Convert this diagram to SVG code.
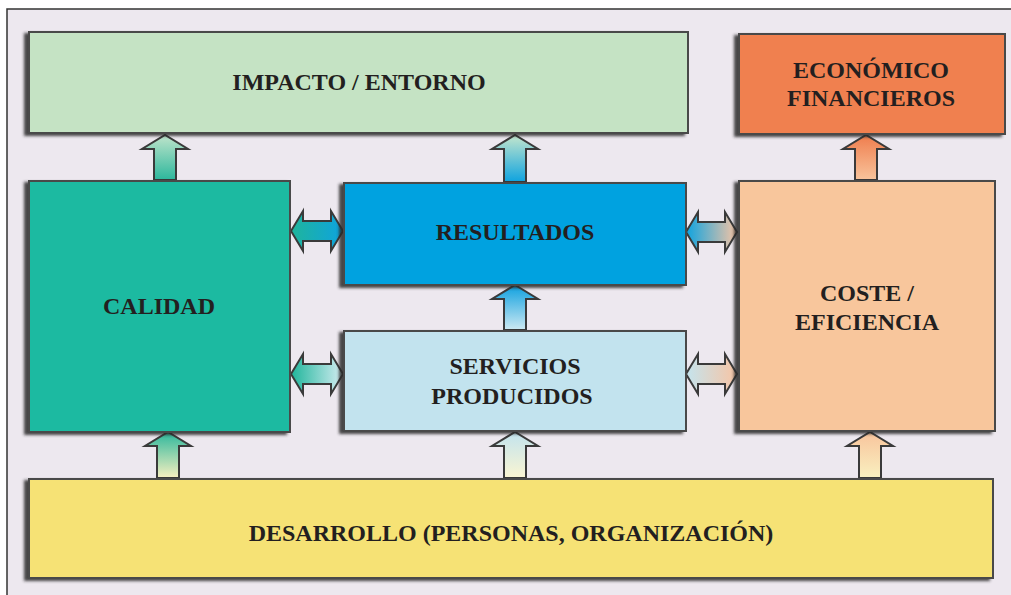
<svg xmlns="http://www.w3.org/2000/svg" width="1011" height="595" viewBox="0 0 1011 595">
<defs>
<style>
.box{stroke:#4a4a4a;stroke-width:2;filter:url(#sh)}
.t{font-family:"Liberation Serif","Times New Roman",serif;font-weight:bold;font-size:24px;fill:#231f20;text-anchor:middle}
.ar{stroke:#3a3a3a;stroke-width:2;stroke-linejoin:miter}
</style>
<filter id="sh" x="-5%" y="-5%" width="110%" height="115%">
<feDropShadow dx="-4" dy="2" stdDeviation="1.5" flood-color="#2a2a2a" flood-opacity="0.85"/>
</filter>
<linearGradient id="gA" x1="0" y1="1" x2="0" y2="0"><stop offset="0" stop-color="#2cb79c"/><stop offset="1" stop-color="#bfe4cb"/></linearGradient>
<linearGradient id="gB" x1="0" y1="1" x2="0" y2="0"><stop offset="0" stop-color="#0ea3df"/><stop offset="1" stop-color="#c4e6cd"/></linearGradient>
<linearGradient id="gC" x1="0" y1="1" x2="0" y2="0"><stop offset="0" stop-color="#f8c49c"/><stop offset="1" stop-color="#ef7d4d"/></linearGradient>
<linearGradient id="gD" x1="0" y1="1" x2="0" y2="0"><stop offset="0" stop-color="#cde9f2"/><stop offset="1" stop-color="#0ea0df"/></linearGradient>
<linearGradient id="gE" x1="0" y1="1" x2="0" y2="0"><stop offset="0" stop-color="#f7f0c0"/><stop offset="1" stop-color="#2cb79c"/></linearGradient>
<linearGradient id="gF" x1="0" y1="1" x2="0" y2="0"><stop offset="0" stop-color="#faf5d2"/><stop offset="1" stop-color="#c2e3ee"/></linearGradient>
<linearGradient id="gG" x1="0" y1="1" x2="0" y2="0"><stop offset="0" stop-color="#f9f0c0"/><stop offset="1" stop-color="#f8c49c"/></linearGradient>
<linearGradient id="hA" x1="0" y1="0" x2="1" y2="0"><stop offset="0" stop-color="#1fb59b"/><stop offset="1" stop-color="#0ea3df"/></linearGradient>
<linearGradient id="hB" x1="0" y1="0" x2="1" y2="0"><stop offset="0" stop-color="#1fb59b"/><stop offset="1" stop-color="#d4edf2"/></linearGradient>
<linearGradient id="hC" x1="0" y1="0" x2="1" y2="0"><stop offset="0" stop-color="#0ea3df"/><stop offset="1" stop-color="#f7c4a4"/></linearGradient>
<linearGradient id="hD" x1="0" y1="0" x2="1" y2="0"><stop offset="0" stop-color="#c4e4ee"/><stop offset="1" stop-color="#f7c4a4"/></linearGradient>
</defs>
<rect x="0" y="0" width="1011" height="595" fill="#ffffff"/>
<rect x="7" y="9" width="1010" height="590" fill="#ede8ef" stroke="#333" stroke-width="1.5"/>

<g id="connectors">
<path class="ar" fill="url(#gA)" d="M154,180 V149 H142 L165,135 L188,149 H176 V180 Z"/>
<path class="ar" fill="url(#gB)" d="M504,182 V149 H492 L515,135 L538,149 H526 V182 Z"/>
<path class="ar" fill="url(#gC)" d="M855,180 V149 H843 L866,135 L889,149 H877 V180 Z"/>
<path class="ar" fill="url(#gD)" d="M504,330 V299 H492 L515,285 L538,299 H526 V330 Z"/>
<path class="ar" fill="url(#gE)" d="M157,478 V446 H145 L168,432 L191,446 H179 V478 Z"/>
<path class="ar" fill="url(#gF)" d="M504,478 V446 H492 L515,432 L538,446 H526 V478 Z"/>
<path class="ar" fill="url(#gG)" d="M859,478 V446 H847 L870,432 L893,446 H881 V478 Z"/>
<path class="ar" fill="url(#hA)" d="M291,231 L303,211 V221 H331 V211 L343,231 L331,251 V241 H303 V251 Z"/>
<path class="ar" fill="url(#hB)" d="M291,374 L303,354 V364 H331 V354 L343,374 L331,394 V384 H303 V394 Z"/>
<path class="ar" fill="url(#hC)" d="M686,232 L698,212 V222 H725 V212 L737,232 L725,252 V242 H698 V252 Z"/>
<path class="ar" fill="url(#hD)" d="M686,374 L698,354 V364 H725 V354 L737,374 L725,394 V384 H698 V394 Z"/>
</g>

<g id="impacto">
<rect class="box" x="29" y="32" width="659" height="101" fill="#c5e3c4"/>
<text class="t" x="359" y="90">IMPACTO / ENTORNO</text>
</g>
<g id="economico">
<rect class="box" x="739" y="34" width="266" height="100" fill="#f0804f"/>
<text class="t" x="871" y="78">ECONÓMICO</text>
<text class="t" x="871" y="106">FINANCIEROS</text>
</g>
<g id="calidad">
<rect class="box" x="29" y="181" width="261" height="251" fill="#1fbaa1"/>
<text class="t" x="159" y="314">CALIDAD</text>
</g>
<g id="resultados">
<rect class="box" x="344" y="183" width="342" height="102" fill="#00a2e0"/>
<text class="t" x="515" y="240">RESULTADOS</text>
</g>
<g id="servicios">
<rect class="box" x="344" y="331" width="342" height="100" fill="#c2e3ee"/>
<text class="t" x="515" y="374">SERVICIOS</text>
<text class="t" x="512" y="404">PRODUCIDOS</text>
</g>
<g id="coste">
<rect class="box" x="739" y="181" width="256" height="250" fill="#f8c69c"/>
<text class="t" x="867" y="301">COSTE /</text>
<text class="t" x="867" y="330">EFICIENCIA</text>
</g>
<g id="desarrollo">
<rect class="box" x="29" y="479" width="964" height="99" fill="#f6e274"/>
<text class="t" x="511" y="541">DESARROLLO (PERSONAS, ORGANIZACIÓN)</text>
</g>
</svg>
